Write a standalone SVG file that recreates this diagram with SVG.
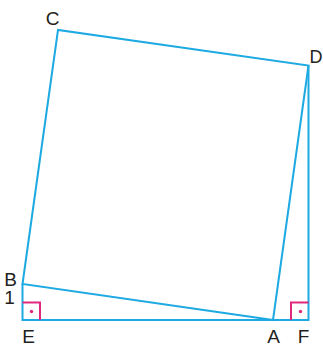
<svg xmlns="http://www.w3.org/2000/svg" width="323" height="349" viewBox="0 0 323 349">
<style>
.ln{fill:none;stroke:#1DA9E1;stroke-width:2;stroke-linejoin:miter}
.ra{fill:none;stroke:#E0287E;stroke-width:2}
.dot{fill:#E0287E}
.lb{font-family:"Liberation Sans",Arial,sans-serif;font-size:19px;fill:#231F20}
</style>
<rect width="323" height="349" fill="#fff"/>
<g id="connectors">
<polygon class="ln" points="273,320 22.5,284 58,30 308.5,65.5"/>
<polyline class="ln" points="22.5,284 22.5,320 308.5,320 308.5,65.5"/>
</g>
<g id="angleE">
<polyline class="ra" points="22.5,302.5 40,302.5 40,320"/>
<circle class="dot" cx="31.5" cy="311.5" r="1.7"/>
</g>
<g id="angleF">
<polyline class="ra" points="291,320 291,302.5 308.5,302.5"/>
<circle class="dot" cx="300.5" cy="311.5" r="1.7"/>
</g>
<g id="labels">
<text class="lb" x="52.5" y="24.5" text-anchor="middle">C</text>
<text class="lb" x="309.5" y="62.5" style="font-size:18px">D</text>
<text class="lb" x="10.5" y="285.5" text-anchor="middle">B</text>
<text class="lb" x="9.5" y="304" text-anchor="middle">1</text>
<text class="lb" x="28.5" y="343" text-anchor="middle">E</text>
<text class="lb" x="273.5" y="342.5" text-anchor="middle">A</text>
<text class="lb" x="303.5" y="342.5" text-anchor="middle">F</text>
</g>
</svg>
